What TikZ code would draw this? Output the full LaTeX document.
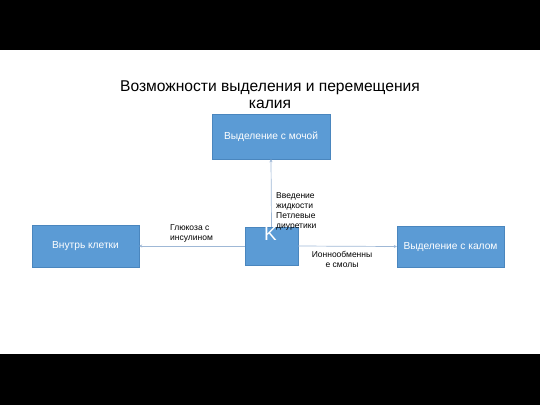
\documentclass[tikz,border=0pt]{standalone}
\usepackage{fontspec}
\setmainfont{Liberation Sans}
\usetikzlibrary{arrows.meta}
\definecolor{boxblue}{HTML}{5B9BD5}
\definecolor{boxedge}{HTML}{4A86BE}
\definecolor{linkc}{HTML}{9FB8D6}
\begin{document}
\begin{tikzpicture}[x=1pt,y=-1pt,
  bluebox/.style={draw=boxedge,fill=boxblue,text=white,inner sep=0pt,font=\fontsize{10.2}{12}\selectfont},
  link/.style={draw=linkc,line width=0.7pt,-{Stealth[length=3pt,width=3pt]}},
  lbl/.style={font=\fontsize{8.5}{10}\selectfont,inner sep=0pt,align=left}]
\useasboundingbox (0,0) rectangle (540,405);
\fill[black] (0,0) rectangle (540,50);
\fill[black] (0,354) rectangle (540,405);
\node[font=\fontsize{15.6}{17}\selectfont,align=center] (title) at (270,94.5) {Возможности выделения и перемещения\\калия};
\node[bluebox,minimum width=118pt,minimum height=45pt] (urine) at (271,136.5) {Выделение с мочой};
\node[bluebox,minimum width=53pt,minimum height=38pt] (k) at (271.5,246) {};
\node[text=white,font=\fontsize{19}{19}\selectfont,inner sep=0pt] (kt) at (270.5,234) {K};
\node[bluebox,minimum width=107pt,minimum height=42pt] (cell) at (85.5,246) {Внутрь клетки};
\node[bluebox,minimum width=107pt,minimum height=41pt] (feces) at (450.5,246.5) {Выделение с калом};
\draw[link] (k.north) -- (urine.south);
\draw[link] (k.west) -- (cell.east);
\draw[link] (k.east) -- (feces.west);
\node[lbl,anchor=north west] (l1) at (276,192) {Введение\\жидкости\\Петлевые\\диуретики};
\node[lbl,anchor=north west] (l2) at (170,224) {Глюкоза с\\инсулином};
\node[lbl,align=center,anchor=north] (l3) at (342,251) {Ионнообменны\\е смолы};
\end{tikzpicture}
\end{document}
